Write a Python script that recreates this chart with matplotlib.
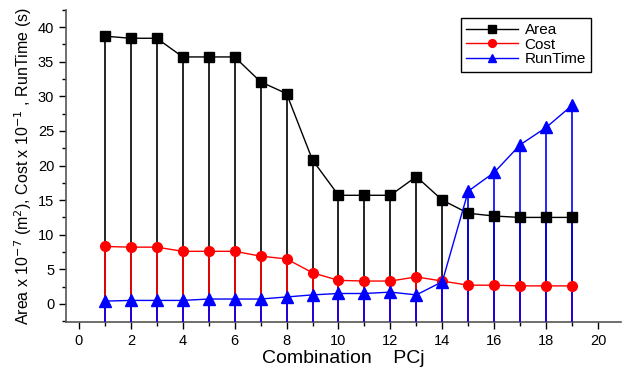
import matplotlib
matplotlib.use("Agg")
import matplotlib.pyplot as plt
from matplotlib.ticker import MultipleLocator

plt.rcParams['font.family'] = ['Liberation Sans', 'DejaVu Sans']

# data
combination = list(range(1, 20))
area = [38.7, 38.4, 38.4, 35.7, 35.7, 35.7, 32.1, 30.4, 20.8, 15.7,
        15.7, 15.7, 18.4, 15.0, 13.1, 12.7, 12.5, 12.5, 12.5]
cost = [8.3, 8.2, 8.2, 7.6, 7.6, 7.6, 6.9, 6.5, 4.5, 3.4,
        3.3, 3.3, 3.9, 3.3, 2.7, 2.7, 2.6, 2.6, 2.6]
runtime = [0.4, 0.5, 0.5, 0.5, 0.7, 0.7, 0.7, 1.0, 1.3, 1.5,
           1.5, 1.7, 1.3, 3.2, 16.3, 19.0, 23.0, 25.5, 28.7]

ymin = -2.6

fig = plt.figure(figsize=(6.22, 3.67), dpi=100)
ax = fig.add_axes([0.106, 0.123, 0.893, 0.85])

# drop lines down to the x axis
ax.vlines(combination, ymin, area, colors='black', lw=1.2, zorder=1)
ax.vlines(combination, ymin, cost, colors='red', lw=1.2, zorder=2)
ax.vlines(combination, ymin, runtime, colors='blue', lw=1.2, zorder=3)

ax.plot(combination, area, color='black', marker='s', ms=7, lw=1, label='Area', zorder=4)
ax.plot(combination, cost, color='red', marker='o', ms=7, lw=1, label='Cost', zorder=5)
ax.plot(combination, runtime, color='blue', marker='^', ms=8, lw=1, label='RunTime', zorder=6)

ax.set_xlim(-0.5, 20.9)
ax.set_ylim(ymin, 42.5)
ax.xaxis.set_major_locator(MultipleLocator(2))
ax.xaxis.set_minor_locator(MultipleLocator(1))
ax.yaxis.set_major_locator(MultipleLocator(5))
ax.yaxis.set_minor_locator(MultipleLocator(2.5))
ax.tick_params(which='both', direction='out', labelsize=10.5, width=1)
ax.tick_params(which='major', length=5)
ax.tick_params(which='minor', length=3)
for s in ['top', 'right']:
    ax.spines[s].set_visible(False)
for s in ['left', 'bottom']:
    ax.spines[s].set_color('#555555')
    ax.spines[s].set_linewidth(1.2)

ax.set_xlabel('Combination    PCj', fontsize=14, labelpad=2)
ax.set_ylabel(r'Area x 10$^{-7}$ (m$^{2}$), Cost x 10$^{-1}$ , RunTime (s)',
              fontsize=11.5, labelpad=3, fontstretch='condensed')

leg = ax.legend(loc='upper right', bbox_to_anchor=(0.954, 0.99), fontsize=11,
                fancybox=False, framealpha=1, edgecolor='black',
                handlelength=3.4, markerscale=0.8, borderpad=0.35,
                labelspacing=0.05, handletextpad=0.4, borderaxespad=0.3)
leg.get_frame().set_linewidth(1)

fig.savefig('out.png', dpi=100)
